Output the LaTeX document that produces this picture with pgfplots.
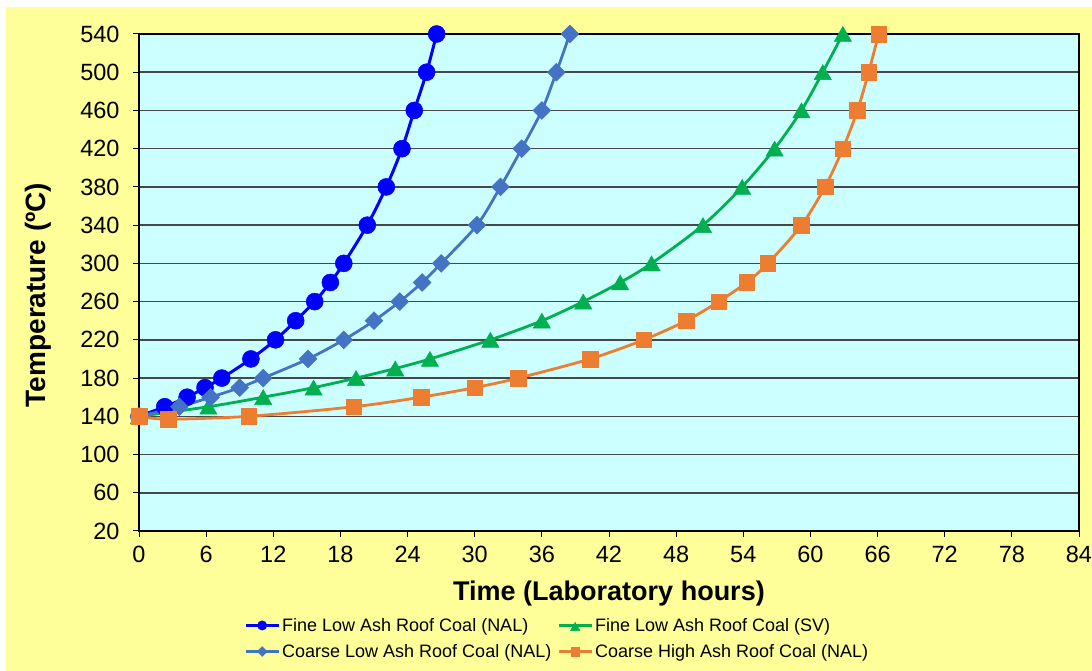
\documentclass[border=0pt]{standalone}
\usepackage{pgfplots}
\pgfplotsset{compat=1.18}
\usepackage{fontspec}
\setmainfont{Liberation Sans}
\definecolor{bgY}{HTML}{FFFF99}
\definecolor{bgC}{HTML}{CCFFFF}
\definecolor{cBlue}{HTML}{0000FF}
\definecolor{cSteel}{HTML}{4472C4}
\definecolor{cGreen}{HTML}{00B050}
\definecolor{cOrange}{HTML}{ED7D31}
\begin{document}
\begin{tikzpicture}[x=1pt,y=1pt]
\useasboundingbox (0,0) rectangle (1092,671);
\fill[white] (0,0) rectangle (1092,671);
\fill[bgY] (6,0) rectangle (1092,664);
\begin{axis}[
  at={(139pt,140pt)}, anchor=south west,
  scale only axis, width=940pt, height=497pt,
  xmin=0, xmax=84, ymin=20, ymax=540,
  xtick={0,6,...,84}, ytick={20,60,...,540},
  tick pos=left, tick align=outside, major tick length=6pt,
  tick style={black, line width=1pt},
  axis line style={black, line width=1.3pt},
  ymajorgrids, grid style={black!72, line width=1.5pt},
  axis background/.style={fill=bgC},
  clip=false,
  /pgf/number format/assume math mode=true,
  ticklabel style={font=\fontsize{23.5}{27}\selectfont},
  yticklabel style={xshift=-10pt},
  xticklabel style={yshift=-6pt},
  xlabel={Time (Laboratory hours)},
  ylabel={Temperature (ºC)},
  xlabel style={font=\fontsize{27}{32}\selectfont\bfseries, at={(axis description cs:0.5,-0.125)}, anchor=center},
  ylabel style={font=\fontsize{28}{33}\selectfont\bfseries, at={(axis description cs:-0.107,0.475)}, anchor=center},
  legend columns=2,
  legend cell align=left,
  legend style={at={(axis description cs:0.1085,-0.167)}, anchor=north west, draw=none, fill=none,
    font=\fontsize{18}{20}\selectfont,
    /tikz/every even column/.append style={column sep=4pt}, row sep=7.5pt},
  legend image code/.code={\draw[mark repeat=2,mark phase=2] plot coordinates {(0pt,0pt) (16.5pt,0pt) (33pt,0pt)};},
  legend image post style={/tikz/every mark/.append style={scale=0.55}},
]
\addplot[cBlue, line width=3pt, smooth, tension=0.5, mark=*, mark size=8.5pt,
  mark options={solid, fill=cBlue, line width=0.5pt}] table {
x y
0 140
2.3 150
4.3 160
5.9 170
7.4 180
10.0 200
12.2 220
14.0 240
15.7 260
17.1 280
18.3 300
20.4 340
22.1 380
23.5 420
24.6 460
25.7 500
26.6 540
};
\addlegendentry{Fine Low Ash Roof Coal (NAL)}
\addplot[cGreen, line width=2.8pt, smooth, tension=0.5, mark=triangle*, mark size=10pt,
  mark options={solid, fill=cGreen, line width=0.5pt, yshift=-2.5pt}] table {
x y
0 140
6.2 150
11.1 160
15.6 170
19.4 180
22.9 190
26.0 200
31.4 220
36.0 240
39.7 260
43.0 280
45.8 300
50.4 340
53.9 380
56.8 420
59.2 460
61.1 500
62.9 540
};
\addlegendentry{Fine Low Ash Roof Coal (SV)}
\addplot[cSteel, line width=2.8pt, smooth, tension=0.5, mark=square*, mark size=6.3pt,
  mark options={solid, fill=cSteel, line width=0.5pt, rotate=45}] table {
x y
0 140
3.6 150
6.4 160
9.0 170
11.1 180
15.1 200
18.3 220
21.0 240
23.3 260
25.3 280
27.0 300
30.2 340
32.3 380
34.2 420
36.0 460
37.3 500
38.5 540
};
\addlegendentry{Coarse Low Ash Roof Coal (NAL)}
\addplot[cOrange, line width=2.8pt, smooth, tension=0.5, mark=square*, mark size=7.8pt,
  mark options={solid, fill=cOrange, line width=0.5pt}] table {
x y
0 140
2.6 137
9.8 140
19.2 150
25.2 160
30.0 170
33.9 180
40.3 200
45.1 220
48.9 240
51.8 260
54.3 280
56.2 300
59.2 340
61.3 380
62.9 420
64.2 460
65.2 500
66.1 540
};
\addlegendentry{Coarse High Ash Roof Coal (NAL)}
\end{axis}
\end{tikzpicture}
\end{document}
